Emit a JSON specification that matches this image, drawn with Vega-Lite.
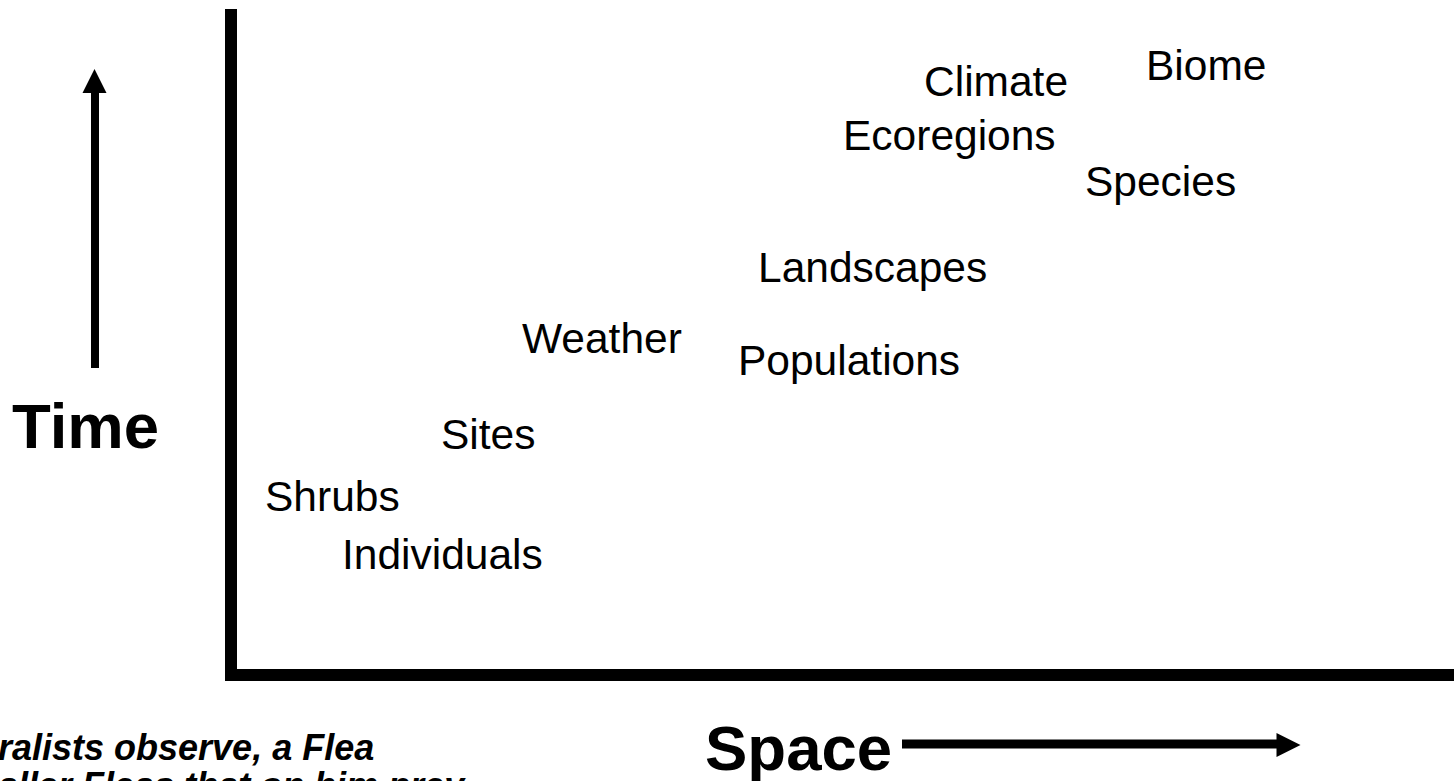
{
  "$schema": "https://vega.github.io/schema/vega-lite/v6.json",
  "width": 1454,
  "height": 781,
  "autosize": {"type": "none"},
  "padding": 0,
  "background": "white",
  "config": {"view": {"stroke": null}},
  "datasets": {
    "frame": [
      {"x": 231, "x2": 231, "y": 772, "y2": 100},
      {"x": 225, "x2": 1454, "y": 106, "y2": 106}
    ],
    "upShaft": [{"x": 95, "x2": 95, "y": 413, "y2": 692}],
    "rightShaft": [{"x": 902, "x2": 1282, "y": 37, "y2": 37}],
    "upHead": [{"x": 94.5, "y": 700}],
    "rightHead": [{"x": 1288.5, "y": 36}],
    "labels": [
      {"label": "Climate", "space": 924, "time": 685},
      {"label": "Biome", "space": 1146, "time": 701},
      {"label": "Ecoregions", "space": 843, "time": 631},
      {"label": "Species", "space": 1085, "time": 585},
      {"label": "Landscapes", "space": 758, "time": 499},
      {"label": "Weather", "space": 522, "time": 428},
      {"label": "Populations", "space": 738, "time": 406},
      {"label": "Sites", "space": 441, "time": 332},
      {"label": "Shrubs", "space": 265, "time": 270},
      {"label": "Individuals", "space": 342, "time": 212}
    ],
    "titles": [
      {"label": "Time", "space": 12, "time": 333},
      {"label": "Space", "space": 705, "time": 11}
    ],
    "quote": [
      {"label": "So, naturalists observe, a Flea", "space": -144, "time": 21},
      {"label": "Hath smaller Fleas that on him prey", "space": -144, "time": -17}
    ]
  },
  "resolve": {"scale": {"x": "shared", "y": "shared"}},
  "layer": [
    {
      "data": {"name": "frame"},
      "mark": {"type": "rule", "color": "black", "strokeWidth": 12, "strokeCap": "butt"},
      "encoding": {
        "x": {"field": "x", "type": "quantitative", "scale": {"domain": [0, 1454], "nice": false, "zero": false}, "axis": null},
        "x2": {"field": "x2"},
        "y": {"field": "y", "type": "quantitative", "scale": {"domain": [0, 781], "nice": false, "zero": false}, "axis": null},
        "y2": {"field": "y2"}
      }
    },
    {
      "data": {"name": "upShaft"},
      "mark": {"type": "rule", "color": "black", "strokeWidth": 8, "strokeCap": "butt"},
      "encoding": {
        "x": {"field": "x", "type": "quantitative"},
        "x2": {"field": "x2"},
        "y": {"field": "y", "type": "quantitative"},
        "y2": {"field": "y2"}
      }
    },
    {
      "data": {"name": "rightShaft"},
      "mark": {"type": "rule", "color": "black", "strokeWidth": 9, "strokeCap": "butt"},
      "encoding": {
        "x": {"field": "x", "type": "quantitative"},
        "x2": {"field": "x2"},
        "y": {"field": "y", "type": "quantitative"},
        "y2": {"field": "y2"}
      }
    },
    {
      "data": {"name": "upHead"},
      "mark": {"type": "point", "shape": "M0,-1L-1,1L1,1Z", "size": 576, "filled": true, "color": "black", "opacity": 1, "strokeWidth": 0},
      "encoding": {
        "x": {"field": "x", "type": "quantitative"},
        "y": {"field": "y", "type": "quantitative"}
      }
    },
    {
      "data": {"name": "rightHead"},
      "mark": {"type": "point", "shape": "M1,0L-1,-1L-1,1Z", "size": 576, "filled": true, "color": "black", "opacity": 1, "strokeWidth": 0},
      "encoding": {
        "x": {"field": "x", "type": "quantitative"},
        "y": {"field": "y", "type": "quantitative"}
      }
    },
    {
      "data": {"name": "labels"},
      "mark": {"type": "text", "font": "Liberation Sans", "fontSize": 42.5, "align": "left", "baseline": "alphabetic", "color": "black"},
      "encoding": {
        "x": {"field": "space", "type": "quantitative"},
        "y": {"field": "time", "type": "quantitative"},
        "text": {"field": "label"}
      }
    },
    {
      "data": {"name": "titles"},
      "mark": {"type": "text", "font": "Liberation Sans", "fontSize": 63.5, "fontWeight": "bold", "align": "left", "baseline": "alphabetic", "color": "black"},
      "encoding": {
        "x": {"field": "space", "type": "quantitative"},
        "y": {"field": "time", "type": "quantitative"},
        "text": {"field": "label"}
      }
    },
    {
      "data": {"name": "quote"},
      "mark": {"type": "text", "font": "Liberation Sans", "fontSize": 36, "fontWeight": "bold", "fontStyle": "italic", "align": "left", "baseline": "alphabetic", "color": "black"},
      "encoding": {
        "x": {"field": "space", "type": "quantitative"},
        "y": {"field": "time", "type": "quantitative"},
        "text": {"field": "label"}
      }
    }
  ]
}
